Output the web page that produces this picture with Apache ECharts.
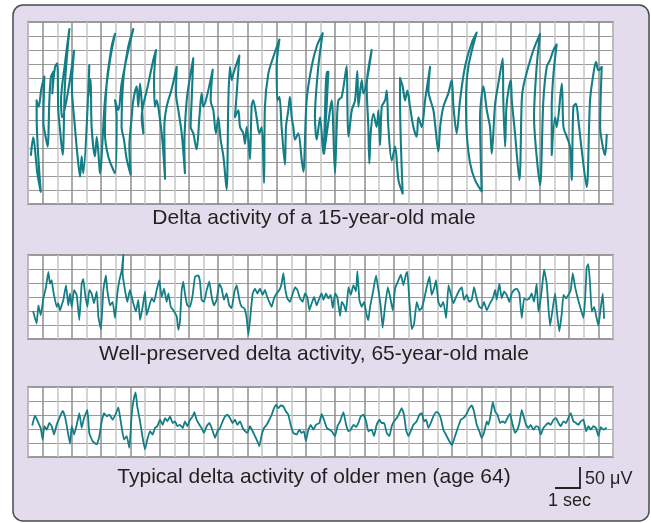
<!DOCTYPE html>
<html>
<head>
<meta charset="utf-8">
<script src="https://cdn.jsdelivr.net/npm/echarts@6/dist/echarts.min.js"></script>
<style>
html,body{margin:0;padding:0;background:#fff;}
#chart{width:651px;height:523px;}
</style>
</head>
<body>
<div id="chart"></div>
<script>
// Captions and scale labels
const captions = [
  'Delta activity of a 15-year-old male',
  'Well-preserved delta activity, 65-year-old male',
  'Typical delta activity of older men (age 64)'
];
const scaleLabels = ['50 \u03bcV', '1 sec'];

// Grid sizes in chart-paper squares: columns, and rows for each panel
const paperColumns = 40;
const paperRows = [13, 6, 5];

// Trace 1: [column, row above bottom]
const trace1 = [
[0.2,3.5],[0.36,4.76],[0.46,4.1],[0.64,2.2],[0.87,0.88],[0.59,6.4],[0.59,7.4],[0.73,6.95],[0.91,8.2],[1.12,9.1],[1.05,5.76],[1.16,5.05],[1.34,4.1],[1.46,7.4],[1.57,9.1],[1.73,9.45],[1.66,7.9],[1.85,9.8],[2.0,10.05],[2.07,6.7],[2.19,5.3],[2.37,3.5],[2.53,8.6],[2.83,12.5],[2.53,10.05],[2.26,7.4],[2.33,6.2],[3.15,10.95],[3.0,8.4],[3.21,5.5],[3.37,3.6],[3.56,1.95],[3.67,3.4],[3.78,2.2],[4.19,9.9],[4.13,7.7],[4.28,8.9],[4.35,5.5],[4.58,3.4],[4.7,4.8],[4.88,2.7],[4.92,2.2],[5.26,7.4],[5.61,10.3],[5.95,12.15],[5.72,11.25],[5.38,8.6],[5.26,5.05],[5.49,3.4],[5.95,2.2],[6.06,6.2],[5.95,7.4],[6.18,6.7],[6.4,8.6],[6.86,11.0],[7.2,12.5],[6.86,11.25],[6.52,8.9],[6.4,5.5],[6.56,4.6],[6.75,3.2],[7.02,2.1],[6.93,4.1],[7.09,6.2],[7.2,7.4],[7.43,8.4],[7.54,6.95],[7.66,8.6],[7.77,7.4],[7.84,6.0],[7.89,5.05],[7.77,6.2],[8.23,8.6],[8.57,10.3],[8.75,11.0],[8.62,8.9],[8.68,6.95],[8.8,7.4],[9.03,6.0],[9.21,4.3],[9.37,1.8],[9.32,5.5],[9.48,6.95],[9.82,8.2],[10.17,9.8],[10.12,7.9],[10.28,6.7],[10.51,5.05],[10.73,2.2],[10.69,4.1],[10.85,7.4],[11.08,9.1],[11.3,10.4],[11.19,7.4],[11.12,5.5],[11.3,5.05],[11.53,3.9],[11.72,6.2],[11.87,7.9],[11.99,6.95],[12.22,7.65],[12.63,9.6],[12.49,7.4],[12.67,6.7],[12.85,5.05],[13.01,6.2],[13.17,4.6],[13.36,3.4],[13.58,1.05],[13.7,7.4],[13.81,9.8],[13.93,8.85],[14.04,9.3],[14.45,10.6],[14.27,7.9],[14.15,6.2],[14.38,6.7],[14.5,5.5],[14.72,5.05],[14.84,4.3],[14.95,5.5],[15.07,4.6],[15.18,3.2],[15.29,6.95],[15.4,7.4],[15.63,6.2],[15.82,5.05],[15.98,5.5],[16.14,1.5],[16.2,6.95],[16.43,9.3],[16.77,10.5],[17.19,11.75],[17.0,9.8],[17.05,7.4],[17.19,7.65],[17.34,5.5],[17.57,2.8],[17.64,5.5],[17.8,6.7],[17.91,7.65],[18.03,6.2],[18.14,5.5],[18.26,4.6],[18.48,5.05],[18.71,3.2],[18.83,2.3],[19.05,7.4],[19.39,9.8],[19.74,11.25],[20.15,12.2],[19.85,9.8],[19.62,6.2],[19.74,4.6],[19.97,6.2],[20.19,3.6],
[20.43,9.45],[20.54,9.45],[20.38,6.2],[20.24,3.6],[20.65,6.7],[20.77,7.4],[20.99,2.2],[21.11,5.5],[21.22,7.4],[21.45,7.65],[21.79,9.85],[21.84,6.95],[21.91,4.8],[22.14,6.7],[22.36,7.4],[22.52,9.5],[22.59,6.95],[22.82,8.85],[22.93,7.9],[23.5,11.0],[23.16,8.4],[23.27,5.5],[23.34,2.9],[23.43,5.05],[23.62,6.45],[23.84,5.5],[23.96,6.7],[24.07,4.2],[24.19,6.95],[24.41,7.4],[24.53,8.1],[24.64,5.5],[24.87,3.1],[25.1,4.1],[25.33,1.7],[25.62,0.75],[25.44,7.4],[25.44,9.0],[25.62,8.4],[25.78,7.4],[25.94,8.1],[26.12,6.95],[26.35,5.5],[26.58,4.8],[26.69,6.2],[26.92,5.5],[27.15,7.4],[27.49,9.8],[27.38,8.1],[27.72,6.7],[27.83,5.75],[28.06,3.75],[28.18,5.5],[28.4,6.95],[28.74,7.9],[28.97,8.85],[29.09,6.95],[29.31,5.05],[29.54,7.4],[29.88,9.8],[30.34,11.5],[30.68,12.25],[30.11,9.8],[29.95,7.4],[30.0,5.05],[30.23,2.9],[30.57,1.7],[31.02,0.9],[30.91,6.2],[31.14,8.4],[31.37,6.7],[31.59,5.5],[31.71,3.6],[31.94,7.15],[32.16,8.6],[32.46,10.4],[32.5,7.4],[32.62,4.1],[32.73,7.15],[33.01,8.85],[33.08,7.4],[33.3,5.05],[33.6,1.7],[33.76,7.4],[33.87,8.4],[34.21,9.8],[34.56,11.0],[35.01,12.15],[34.78,9.8],[34.6,6.2],[34.74,3.85],[35.01,1.35],[35.24,7.4],[35.47,9.8],[35.7,10.3],[35.93,11.0],[36.15,11.4],[35.93,9.3],[35.81,6.95],[35.81,3.5],[36.04,6.2],[36.15,5.5],[36.5,8.6],[36.61,5.5],[36.84,4.8],[37.06,4.1],[37.18,1.7],[37.29,6.95],[37.47,7.15],[37.63,6.0],[37.86,3.85],[38.2,1.2],[38.43,7.4],[38.66,9.3],[38.84,10.15],[39.0,9.55],[39.23,9.8],[39.12,5.5],[39.3,4.1],[39.46,3.5],[39.57,4.95]
];

// Trace 2
const trace2 = [
[0.36,1.95],[0.59,1.1],[0.71,2.4],[0.87,1.7],[1.05,2.9],[1.23,3.7],[1.39,4.8],[1.5,3.95],[1.62,4.2],[1.73,3.4],[1.96,2.3],[2.07,2.55],[2.19,2.05],[2.3,2.4],[2.42,2.8],[2.6,3.85],[2.76,2.4],[2.87,3.25],[2.99,2.3],[3.15,3.5],[3.33,3.15],[3.51,1.35],[3.67,3.95],[3.78,4.3],[3.9,3.25],[4.06,2.3],[4.19,3.5],[4.35,3.25],[4.51,2.55],[4.7,3.4],[4.81,1.6],[4.99,0.7],[5.15,3.5],[5.33,4.55],[5.42,3.5],[5.61,2.4],[5.79,2.65],[5.95,1.5],[6.11,3.25],[6.25,4.2],[6.41,4.9],[6.52,6.0],[6.47,4.7],[6.63,3.5],[6.79,2.65],[6.97,3.5],[7.2,2.55],[7.38,1.95],[7.54,2.8],[7.66,1.35],[7.84,2.3],[8.0,3.4],[8.11,1.7],[8.3,2.4],[8.46,2.9],[8.62,2.65],[8.8,3.5],[8.98,4.2],[9.14,3.0],[9.3,3.6],[9.48,2.65],[9.6,3.25],[9.76,2.3],[9.94,2.05],[10.17,1.6],[10.28,0.65],[10.39,1.25],[10.51,3.5],[10.62,4.1],[10.73,3.25],[10.89,2.4],[11.08,2.3],[11.26,3.15],[11.42,4.45],[11.65,4.55],[11.76,4.1],[11.87,2.8],[12.03,2.65],[12.22,3.5],[12.4,4.1],[12.56,3.0],[12.72,2.4],[12.9,2.8],[13.08,3.95],[13.24,3.6],[13.4,2.8],[13.58,3.25],[13.76,2.4],[13.92,2.2],[14.11,3.35],[14.27,3.85],[14.45,2.8],[14.61,2.3],[14.79,2.2],[14.95,1.5],[15.07,0.3],[15.18,1.35],[15.36,3.25],[15.52,3.6],[15.68,3.25],[15.86,3.6],[16.04,3.15],[16.2,3.5],[16.36,3.0],[16.5,2.65],[16.66,2.3],[16.82,2.9],[17.0,3.25],[17.19,3.5],[17.34,3.95],[17.46,4.7],[17.57,3.7],[17.73,2.9],[17.91,2.65],[18.1,3.25],[18.26,3.7],[18.42,3.5],[18.6,2.9],[18.78,2.65],[18.94,3.25],[19.1,3.0],[19.24,2.05],[19.4,2.55],[19.56,3.0],[19.74,2.4],[19.92,2.9],[20.08,3.25],[20.2,2.8],[20.38,3.25],[20.54,2.9],[20.7,3.15],[20.84,2.2],[21.0,3.25],[21.15,3.0],[21.34,1.65],[21.45,2.65],[21.61,2.4],[21.75,1.95],[21.91,3.7],[22.07,3.15],[22.25,3.85],[22.43,3.4],[22.52,4.85],[22.66,2.8],[22.82,2.3],[22.98,2.65],[23.16,1.7],[23.27,1.35],[23.39,2.3],[23.57,3.25],[23.8,4.55],[23.96,3.5],[24.12,2.3],[24.25,0.8],[24.41,2.3],[24.6,3.7],[24.76,3.0],[24.94,2.05],[25.1,3.6],[25.33,4.2],[25.49,4.6],[25.67,3.85],[25.85,4.65],[25.94,4.8],[26.08,2.65],[26.24,0.7],[26.4,1.1],[26.58,2.65],[26.76,2.05],[26.92,2.2],[27.08,2.8],[27.26,3.7],[27.45,4.45],[27.6,3.15],[27.76,3.6],[27.9,4.2],[28.06,2.65],[28.22,2.3],[28.4,2.65],[28.59,1.5],[28.75,3.85],[28.9,3.25],[29.09,2.55],[29.27,3.0],[29.5,3.5],[29.66,3.7],[29.81,2.8],[30.0,3.15],[30.18,2.65],[30.34,2.8],[30.5,3.7],[30.68,2.9],[30.86,2.3],[31.02,2.2],[31.18,2.65],[31.37,2.05],[31.59,2.55],[31.78,2.9],[31.94,3.5],[32.05,2.8],[32.23,3.95],[32.39,2.9],[32.55,3.4],[32.73,3.15],[32.92,2.65],[33.08,3.25],[33.24,3.5],[33.42,3.6],[33.6,3.25],[33.76,1.5],[33.92,2.9],[34.1,2.8],[34.28,2.9],[34.44,3.25],[34.6,2.65],[34.78,3.95],[34.9,1.95],[35.06,2.9],[35.2,4.2],[35.29,4.95],[35.47,3.95],[35.58,2.3],[35.7,0.95],[35.88,2.2],[36.04,3.25],[36.2,1.6],[36.33,0.55],[36.5,1.85],[36.61,3.15],[36.79,2.9],[36.95,3.15],[37.11,3.5],[37.25,4.7],[37.41,3.7],[37.57,3.0],[37.75,2.3],[37.98,1.5],[38.09,2.8],[38.2,5.1],[38.32,5.35],[38.43,3.95],[38.55,1.95],[38.71,2.3],[38.84,1.7],[39.0,0.95],[39.16,2.2],[39.3,3.25],[39.39,1.5]
];

// Trace 3
const trace3 = [
[0.3,2.3],[0.48,2.97],[0.71,2.43],[0.87,2.07],[1.0,1.25],[1.12,2.2],[1.28,1.95],[1.46,2.43],[1.62,2.2],[1.78,1.6],[1.96,2.3],[2.14,2.78],[2.37,3.3],[2.53,2.9],[2.64,2.3],[2.87,0.95],[2.99,2.2],[3.15,1.6],[3.33,2.3],[3.51,3.14],[3.67,2.07],[3.83,2.78],[4.06,3.37],[4.19,1.7],[4.42,1.13],[4.7,0.9],[4.88,1.49],[5.04,2.55],[5.2,3.14],[5.38,2.9],[5.56,3.02],[5.79,2.66],[6.02,3.14],[6.18,3.54],[6.34,2.55],[6.56,1.25],[6.75,1.49],[6.93,0.66],[7.09,3.02],[7.2,3.96],[7.36,4.62],[7.47,3.61],[7.66,2.55],[7.84,1.37],[8.0,0.54],[8.16,1.25],[8.34,1.84],[8.52,1.6],[8.68,2.07],[8.84,2.2],[9.03,2.66],[9.21,2.3],[9.37,2.78],[9.53,2.55],[9.71,2.9],[9.89,2.43],[10.05,2.55],[10.21,2.2],[10.39,2.3],[10.58,2.07],[10.73,2.55],[10.89,2.2],[11.08,2.66],[11.26,2.9],[11.37,3.2],[11.53,2.66],[11.72,2.3],[11.87,2.07],[12.03,1.72],[12.22,2.2],[12.4,2.43],[12.56,2.07],[12.79,1.37],[12.95,1.84],[13.13,2.07],[13.31,2.55],[13.47,2.9],[13.63,3.02],[13.81,2.78],[13.99,2.43],[14.15,2.66],[14.31,2.3],[14.5,2.55],[14.68,2.07],[14.84,1.84],[15.0,1.72],[15.18,2.2],[15.36,1.84],[15.52,1.49],[15.68,1.13],[15.82,0.78],[15.98,1.6],[16.14,2.07],[16.32,2.3],[16.5,2.66],[16.66,3.02],[16.82,3.49],[16.96,3.73],[17.12,3.49],[17.28,3.68],[17.46,3.61],[17.64,3.25],[17.8,3.02],[17.96,2.3],[18.14,1.72],[18.37,1.6],[18.55,1.95],[18.71,1.72],[18.87,1.84],[19.0,1.13],[19.17,1.95],[19.33,2.3],[19.51,1.95],[19.69,2.3],[19.92,2.43],[20.08,3.07],[20.24,2.66],[20.43,2.07],[20.61,1.95],[20.77,1.84],[20.99,1.49],[21.16,2.2],[21.34,2.55],[21.57,3.2],[21.75,2.3],[21.91,1.84],[22.07,1.95],[22.25,2.3],[22.43,2.14],[22.59,2.43],[22.75,2.9],[22.93,3.02],[23.12,2.55],[23.27,1.84],[23.5,1.95],[23.66,1.49],[23.84,2.3],[24.03,2.66],[24.19,2.43],[24.35,2.43],[24.53,1.72],[24.71,1.49],[24.87,2.2],[25.03,2.55],[25.21,2.78],[25.39,3.14],[25.55,3.49],[25.71,3.02],[25.85,1.95],[26.01,1.49],[26.17,1.84],[26.35,2.3],[26.58,2.55],[26.76,3.02],[26.92,3.14],[27.08,2.55],[27.22,2.66],[27.38,2.07],[27.54,2.43],[27.72,2.9],[27.9,3.2],[28.06,3.14],[28.22,2.78],[28.4,1.95],[28.63,1.49],[28.81,1.13],[28.97,0.85],[29.09,1.13],[29.27,1.72],[29.43,2.2],[29.59,2.66],[29.77,2.78],[29.95,3.02],[30.18,3.49],[30.34,3.68],[30.5,3.25],[30.68,2.3],[30.86,1.84],[31.02,1.37],[31.18,1.72],[31.37,2.55],[31.48,2.3],[31.64,3.02],[31.78,3.91],[31.94,3.25],[32.1,3.02],[32.28,2.43],[32.46,2.55],[32.62,2.43],[32.78,2.78],[32.96,3.07],[33.14,2.3],[33.3,1.72],[33.46,1.95],[33.6,2.43],[33.76,3.37],[33.92,2.78],[34.06,2.3],[34.21,2.07],[34.37,2.3],[34.56,1.95],[34.74,2.2],[34.9,2.14],[35.06,1.6],[35.24,2.07],[35.42,2.3],[35.58,2.43],[35.74,2.3],[35.93,2.66],[36.11,2.78],[36.27,2.43],[36.43,2.2],[36.61,2.55],[36.79,2.43],[36.95,2.78],[37.11,3.14],[37.29,2.55],[37.47,2.43],[37.63,2.3],[37.79,2.55],[37.98,2.66],[38.16,1.84],[38.32,2.2],[38.48,1.95],[38.66,2.2],[38.84,2.07],[39.0,1.49],[39.16,2.14],[39.34,1.95],[39.53,2.07]
];

const traces = [trace1, trace2, trace3];

// Layout (pixels)
const gridLeft = 28, gridWidth = 585;
const gridTops = [22, 255, 387];
const rowPx = 14;
const TEAL = '#137e86';
const FONT = '"Liberation Sans", Arial, Helvetica, sans-serif';
const smoothing = [0.3, 0.12, 0.12];

const grids = [], xAxes = [], yAxes = [], series = [];
traces.forEach((tr, i) => {
  grids.push({
    left: gridLeft, top: gridTops[i], width: gridWidth, height: paperRows[i] * rowPx,
    show: true, backgroundColor: '#ffffff', borderColor: '#999999', borderWidth: 2
  });
  xAxes.push({
    type: 'value', gridIndex: i, min: 0, max: paperColumns, interval: 1,
    axisLine: {show: false}, axisTick: {show: false}, axisLabel: {show: false},
    splitLine: {show: true, lineStyle: {color: ['#c6c6c6', '#8e8e8e'], width: 1.5}}
  });
  yAxes.push({
    type: 'value', gridIndex: i, min: 0, max: paperRows[i], interval: 1,
    axisLine: {show: false}, axisTick: {show: false}, axisLabel: {show: false},
    splitLine: {show: true, lineStyle: {color: '#999999', width: 1.2}}
  });
  series.push({
    type: 'line', xAxisIndex: i, yAxisIndex: i, data: tr,
    showSymbol: false, symbol: 'none', clip: true, smooth: smoothing[i],
    lineStyle: {color: TEAL, width: i === 0 ? 2.1 : 1.8, join: 'round', cap: 'round'},
    z: 5
  });
});

const captionY = [218, 354, 477];
const graphic = [
  {type: 'rect', z: -100, silent: true,
   shape: {x: 13, y: 5, width: 636, height: 516, r: 10},
   style: {fill: '#e3dcec', stroke: '#4a4a4a', lineWidth: 1.5}},
];
captions.forEach((c, i) => {
  graphic.push({type: 'text', z: 10, style: {text: c, x: 314, y: captionY[i],
    align: 'center', verticalAlign: 'middle', font: '21px ' + FONT, fill: '#231f20'}});
});
graphic.push(
  {type: 'polyline', z: 10, shape: {points: [[555, 488], [580, 488], [580, 467]]},
   style: {stroke: '#222', lineWidth: 1.8, fill: null}},
  {type: 'text', z: 10, style: {text: scaleLabels[0], x: 585, y: 479, align: 'left',
    verticalAlign: 'middle', font: '18px ' + FONT, fill: '#231f20'}},
  {type: 'text', z: 10, style: {text: scaleLabels[1], x: 548, y: 501, align: 'left',
    verticalAlign: 'middle', font: '18px ' + FONT, fill: '#231f20'}}
);

const chart = echarts.init(document.getElementById('chart'), null, {renderer: 'canvas'});
chart.setOption({
  animation: false,
  backgroundColor: '#ffffff',
  grid: grids, xAxis: xAxes, yAxis: yAxes, series: series,
  graphic: graphic
});
</script>
</body>
</html>
